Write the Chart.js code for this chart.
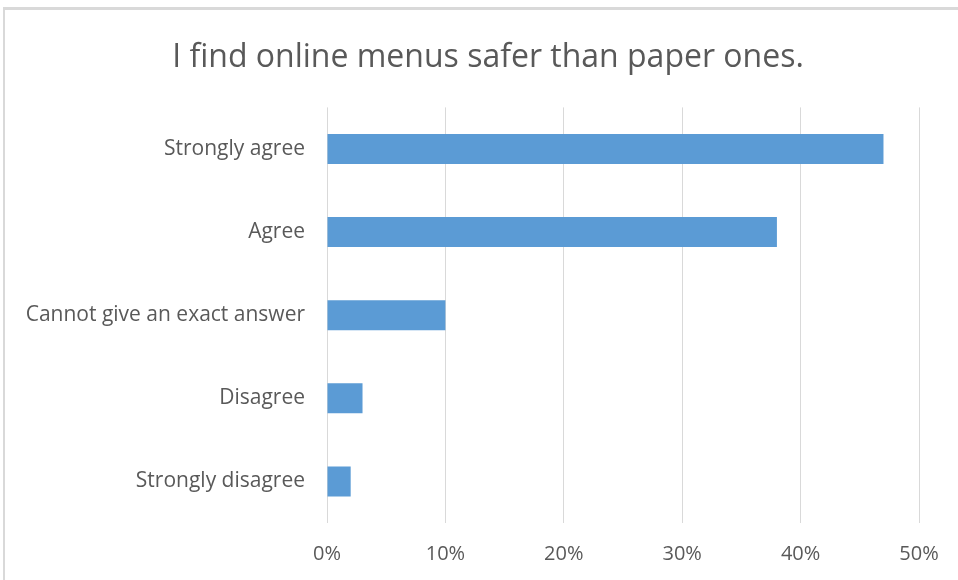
<!DOCTYPE html>
<html>
<head>
<meta charset="utf-8">
<style>
  html, body { margin: 0; padding: 0; background: #fff; overflow: hidden; }
  .frame { position: absolute; left: 3px; top: 7px; width: 1000px; height: 700px; border: 2px solid #d9d9d9; border-top-width: 3px; box-sizing: border-box; }
  .wrap { position: absolute; left: 0; top: 0; width: 958px; height: 580px; }
</style>
</head>
<body>
<div class="frame"></div>
<div class="wrap"><canvas id="chartMenus"></canvas></div>
<script src="https://cdn.jsdelivr.net/npm/chart.js@4.4.0/dist/chart.umd.min.js"></script>
<script>
const labels = ['Strongly agree', 'Agree', 'Cannot give an exact answer', 'Disagree', 'Strongly disagree'];
const shares = [47, 38, 10, 3, 2];
const tickValues = [0, 10, 20, 30, 40, 50];

const ctx = document.getElementById('chartMenus');
new Chart(ctx, {
    type: 'bar',
    data: {
        labels: labels,
        datasets: [{
            label: 'Share',
            data: shares,
            backgroundColor: '#5b9bd5',
            borderWidth: 0,
            barPercentage: 0.72,
            categoryPercentage: 0.5
        }]
    },
    options: {
        indexAxis: 'y',
        responsive: true,
        maintainAspectRatio: false,
        animation: false,
        // left padding nudges the title centre right; right gap comes from the x axis
        layout: { padding: { left: 18, right: 0, top: 0, bottom: 0 } },
        plugins: {
            legend: { display: false },
            tooltip: { enabled: false },
            title: {
                display: true,
                text: 'I find online menus safer than paper ones.',
                color: '#595959',
                font: { family: 'Open Sans', size: 32, weight: 'normal', lineHeight: 1.2 },
                padding: { top: 39, bottom: 30 }
            }
        },
        scales: {
            x: {
                min: 0,
                max: 50,
                afterBuildTicks: axis => { axis.ticks = tickValues.map(v => ({ value: v })); },
                afterFit: axis => { axis.height = 57; axis.paddingRight = 39; },
                border: { display: false },
                grid: { color: '#d9d9d9', lineWidth: 1, drawTicks: false },
                ticks: {
                    padding: 19,
                    color: '#595959',
                    font: { family: 'Open Sans', size: 20 },
                    callback: v => v + '%'
                }
            },
            y: {
                afterFit: axis => { axis.width = 327 - 18; },
                border: { display: false },
                grid: { display: false, drawTicks: false },
                ticks: {
                    padding: 22,
                    color: '#595959',
                    font: { family: 'Open Sans', size: 21 }
                }
            }
        }
    }
});
</script>
</body>
</html>
